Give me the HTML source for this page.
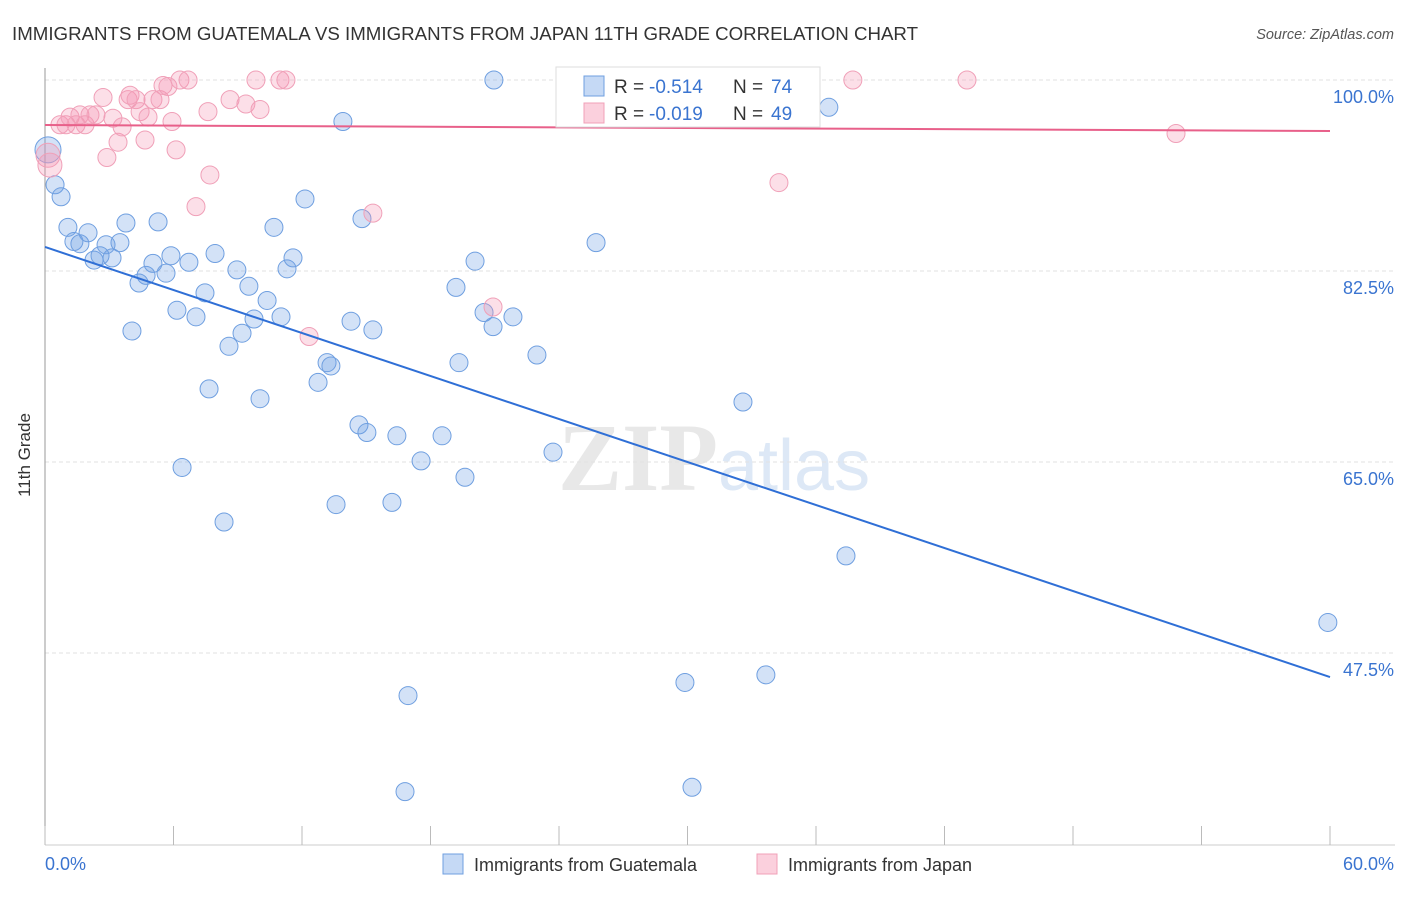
<!DOCTYPE html>
<html><head><meta charset="utf-8"><style>
body{margin:0;background:#fff;font-family:"Liberation Sans",sans-serif;}
</style></head><body>
<svg width="1406" height="892" xmlns="http://www.w3.org/2000/svg">
<text x="12" y="40" font-size="18" fill="#333" textLength="906" lengthAdjust="spacingAndGlyphs">IMMIGRANTS FROM GUATEMALA VS IMMIGRANTS FROM JAPAN 11TH GRADE CORRELATION CHART</text>
<text x="1394" y="39" font-size="14.5" fill="#555" font-style="italic" text-anchor="end">Source: ZipAtlas.com</text>
<text x="718" y="490" font-size="96" fill="#e8e8e8" text-anchor="end" font-family="Liberation Serif" font-weight="bold">ZIP</text>
<text x="718" y="490" font-size="72" fill="#dde8f6">atlas</text>
<g id="grid"></g>
<line x1="45" y1="68" x2="45" y2="845" stroke="#999" stroke-width="1"/>
<line x1="45" y1="845" x2="1395" y2="845" stroke="#ccc" stroke-width="1"/>
<g id="xt"></g>
<text x="30" y="455" font-size="17" fill="#333" text-anchor="middle" transform="rotate(-90 30 455)">11th Grade</text>
<text x="45" y="870" font-size="18" fill="#3a74d0">0.0%</text>
<text x="1394" y="870" font-size="18" fill="#3a74d0" text-anchor="end">60.0%</text>
<g id="pts"></g>
<g id="lines"></g>
<g>
<rect x="556" y="67" width="264" height="60" fill="#fff" stroke="#ddd"/>
<rect x="584" y="76" width="20" height="20" fill="#c5d9f5" stroke="#6f9fe0"/>
<rect x="584" y="103" width="20" height="20" fill="#fbd0dd" stroke="#f0a0b8"/>
<text x="614" y="93" font-size="19" fill="#333">R =</text>
<text x="649" y="93" font-size="19" fill="#3a74d0">-0.514</text>
<text x="733" y="93" font-size="19" fill="#333">N =</text>
<text x="771" y="93" font-size="19" fill="#3a74d0">74</text>
<text x="614" y="120" font-size="19" fill="#333">R =</text>
<text x="649" y="120" font-size="19" fill="#3a74d0">-0.019</text>
<text x="733" y="120" font-size="19" fill="#333">N =</text>
<text x="771" y="120" font-size="19" fill="#3a74d0">49</text>
</g>
<g>
<rect x="443" y="854" width="20" height="20" fill="#c5d9f5" stroke="#6f9fe0"/>
<text x="474" y="871" font-size="18" fill="#333">Immigrants from Guatemala</text>
<rect x="757" y="854" width="20" height="20" fill="#fbd0dd" stroke="#f0a0b8"/>
<text x="788" y="871" font-size="18" fill="#333">Immigrants from Japan</text>
</g>
</svg>
<script>
const yTicks=[100,82.5,65,47.5];
const yTickLabels=["100.0%","82.5%","65.0%","47.5%"];
const xTicks=[0,6,12,18,24,30,36,42,48,54,60];
const blueX=[0.14,0.47,0.75,1.07,1.35,1.63,2.01,2.29,2.57,2.85,3.13,3.50,3.78,4.06,4.39,4.72,5.04,5.28,5.65,5.88,6.16,6.40,6.72,7.05,7.47,7.66,7.94,8.36,8.59,8.96,9.20,9.52,9.76,10.04,10.37,10.69,11.02,11.30,11.58,12.14,12.75,13.17,13.35,13.59,13.91,14.29,14.66,14.80,15.03,15.31,16.20,16.43,16.95,16.81,17.56,18.54,19.19,19.33,19.61,20.08,20.50,20.92,20.96,21.85,22.97,23.72,25.73,29.88,30.21,32.59,33.66,36.60,37.40,59.90];
const blueY=[93.6,90.4,89.3,86.5,85.2,85.0,86.0,83.5,83.9,84.9,83.7,85.1,86.9,77.0,81.4,82.1,83.2,87.0,82.3,83.9,78.9,64.5,83.3,78.3,80.5,71.7,84.1,59.5,75.6,82.6,76.8,81.1,78.1,70.8,79.8,86.5,78.3,82.7,83.7,89.1,72.3,74.1,73.8,61.1,96.2,77.9,68.4,87.3,67.7,77.1,61.3,67.4,43.6,34.8,65.1,67.4,81.0,74.1,63.6,83.4,78.7,77.4,100,78.3,74.8,65.9,85.1,44.8,35.2,70.5,45.5,97.5,56.4,50.3];
const pinkX=[0.14,0.23,0.70,0.98,1.17,1.45,1.63,1.87,2.10,2.38,2.71,2.89,3.17,3.41,3.60,3.88,3.97,4.25,4.44,4.67,4.81,5.04,5.37,5.51,5.74,5.93,6.12,6.30,6.68,7.05,7.61,7.70,8.64,9.38,9.85,10.04,10.97,11.25,12.33,15.31,20.92,28.53,31.70,34.27,37.72,43.05,52.81];
const pinkY=[93.1,92.2,95.9,95.9,96.6,95.9,96.8,95.9,96.8,96.8,98.4,92.9,96.5,94.3,95.7,98.2,98.6,98.2,97.1,94.5,96.6,98.2,98.2,99.5,99.4,96.2,93.6,100,100,88.4,97.1,91.3,98.2,97.8,100,97.3,100,100,76.5,87.8,79.2,100,100,90.6,100,100,95.1];
const blueTrend=[84.7,45.3];
const pinkTrend=[95.88,95.33];
const X=v=>45+v/60*1285;
const Y=v=>80+(100-v)*191/17.5;
const NS="http://www.w3.org/2000/svg";
function mk(t,a,p){const e=document.createElementNS(NS,t);for(const k in a)e.setAttribute(k,a[k]);document.getElementById(p).appendChild(e);return e;}
yTicks.forEach((t,i)=>{
 const l=mk('line',{x1:45,x2:1395,y1:Y(t),y2:Y(t),stroke:'#e2e2e2','stroke-dasharray':'4,3'},'grid');
 
 
 const tx=mk('text',{x:1394,y:Y(t)+23,'font-size':18,fill:'#3a74d0','text-anchor':'end'},'grid');
 tx.textContent=yTickLabels[i];
 
 
});
xTicks.forEach(t=>{
 const l=mk('line',{x1:X(t),x2:X(t),y1:826,y2:845,stroke:'#bbb'},'xt');
 
 
});
blueX.forEach((v,i)=>{
 const c=mk('circle',{cx:X(v),cy:Y(blueY[i]),r:i==0?13:9,fill:'rgba(110,160,230,0.3)',stroke:'#6f9fe0','stroke-width':1},'pts');
 
 
});
pinkX.forEach((v,i)=>{
 const c=mk('circle',{cx:X(v),cy:Y(pinkY[i]),r:i<2?12:9,fill:'rgba(245,150,180,0.3)',stroke:'#f0a0b8','stroke-width':1},'pts');
 
 
});
const bl=mk('line',{x1:X(0),y1:Y(blueTrend[0]),x2:X(60),y2:Y(blueTrend[1]),stroke:'#2f6fd6','stroke-width':2},'lines');


const pl=mk('line',{x1:X(0),y1:Y(pinkTrend[0]),x2:X(60),y2:Y(pinkTrend[1]),stroke:'#e8608a','stroke-width':2},'lines');


</script>
</body></html>
